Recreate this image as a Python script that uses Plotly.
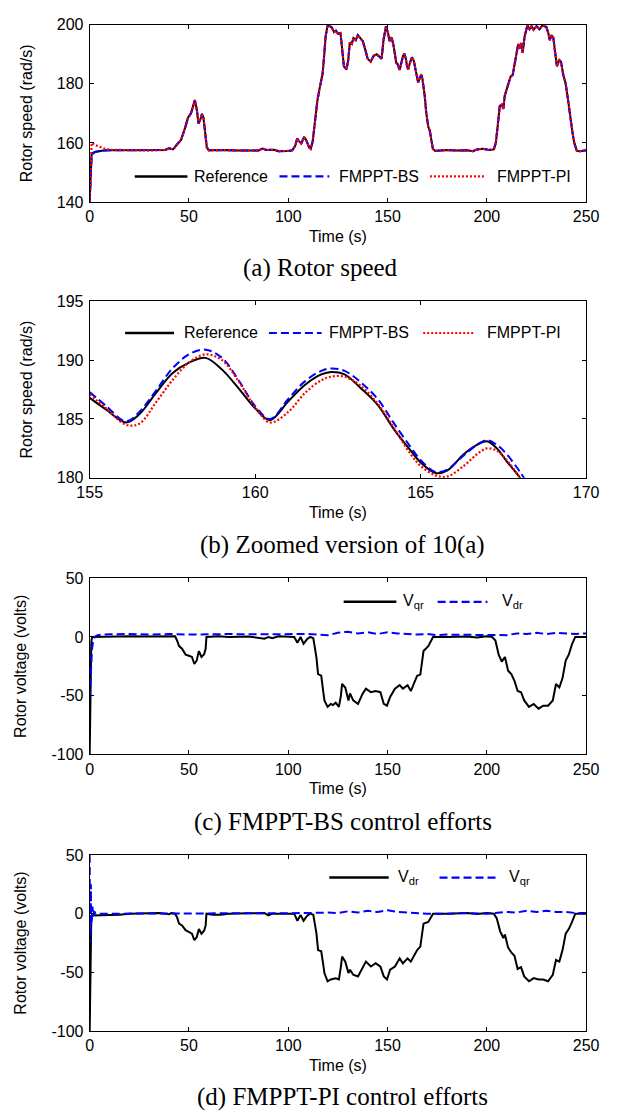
import plotly.graph_objects as go

# ---------------- data ----------------
# (a) Rotor speed over 0-250 s. The three curves coincide after t = 10 s.
t_a_head = [0, 0.5, 1, 3, 5, 7, 10]
ref_head = [140, 152, 156.5, 157.0, 157.3, 157.4, 157.5]
bs_head = [140, 150, 156, 157.0, 157.3, 157.4, 157.5]
pi_head = [140, 150, 160, 159.2, 158.6, 158.2, 157.7]

t_a_tail = [20, 30, 38,
            40, 42, 44, 46, 48, 49.5, 51, 52, 53, 54,
            54.8, 55.8, 56.5, 57.3, 58, 59, 60, 65, 68, 75,
            85, 87, 89, 93, 95, 100, 102, 103.5, 104.5, 105.5,
            106.5, 108, 109, 110.5, 111.3, 112.3, 113, 113.8, 114.6, 115.5,
            116.3, 117.3, 118, 118.8, 119.8, 121, 122, 123, 124, 125,
            126.3, 127.2, 128, 129.3, 130.2, 131, 132, 132.8, 134, 135,
            136, 137.5, 138.8, 140, 141.5, 143, 144.5, 146, 147, 148,
            149.2, 150.3, 151, 152, 153, 154.4, 155, 156.1, 157, 157.8,
            158.5, 159.25, 159.8, 160.4, 161.3, 162.3, 163.2, 164.1, 164.8, 165.4,
            166.2, 167, 167.55, 168, 168.7, 169.5, 170.5, 171.3, 172, 172.8,
            174, 180, 185, 190, 193, 195, 198, 201, 203.5, 204.5,
            205.5, 206.5, 207.5, 208.3, 209, 210, 211, 212, 213, 214,
            214.8, 215.8, 216.5, 217.3, 218, 219, 220.4, 221.5, 222.5, 223.5,
            225, 226.5, 228, 230, 231, 231.7, 232.5, 233.5, 234.5, 235.3,
            236.5, 237.3, 238.5, 239.7, 241, 242, 243, 244, 245.3, 247,
            250]
speed_tail = [157.5, 157.4, 157.6,
              158.2, 157.8, 159.5, 161, 165, 168.5, 170, 172, 174.5, 171,
              166.5, 168, 169.8, 168.5, 164, 158.5, 157.5, 157.7, 157.6, 157.4,
              157.4, 158.1, 157.6, 157.7, 157.2, 157.3, 157.5, 159, 161.5, 160.5,
              159.8, 162, 161, 158.5, 158, 160.5, 165, 170, 174, 177.5,
              180.5, 183.5, 189, 196, 199.7, 199.5, 199, 197.5, 198, 197,
              197.2, 191, 186, 184.8, 188, 194, 193.5, 195.5, 194.8, 196.5,
              195.8, 194.5, 191.5, 188.5, 187.5, 189.5, 190, 189, 188.5, 195,
              199.5, 197, 194.5, 195.8, 193, 187, 186.8, 184.7, 187.3, 189.5,
              190.2, 188.4, 186, 184.9, 187.2, 189, 187.8, 184.5, 181.7, 180.4,
              182, 183.1, 181.7, 180, 176, 170, 165.5, 164, 161, 158,
              157.3, 157.6, 157.4, 157.5, 157.2, 157.8, 158, 157.6, 157.8, 160,
              166, 172.5, 173, 171.5, 176, 178, 180.5, 182.5, 183, 187,
              191, 193.5, 192, 193.8, 190.5, 196, 199.8, 198.5, 199.5, 198.3,
              199.5, 198.5, 199.8, 199.2, 197, 194.8, 196.5, 195.5, 190, 186,
              188, 187.5, 183, 180, 174, 168.5, 164, 160, 157.3, 157.2,
              157.5]

# (b) Zoomed version, 155-170 s
t_b = [155, 155.5, 156.1, 156.5, 157, 157.5, 158, 158.5, 159, 159.5,
       160, 160.45, 161, 161.5, 162, 162.3, 162.7, 163.2, 163.7, 164.2,
       164.7, 165.0, 165.45, 165.8, 166.3, 166.7, 167.0, 167.3, 167.6, 168.0,
       168.3]
ref_b = [186.8, 185.8, 184.7, 185.4, 187.2, 188.9, 189.8, 190.2, 189.2, 187.6,
         185.9, 184.9, 186.5, 187.9, 188.8, 189.0, 188.8, 187.6, 186.2, 184.1,
         182.3, 181.3, 180.4, 180.6, 182.0, 182.8, 183.1, 182.5, 181.4, 180.0,
         178.6]
bs_b = [187.3, 186.1, 184.8, 185.6, 187.4, 189.3, 190.5, 190.9, 190.2, 188.3,
        186.1, 185.0, 186.7, 188.2, 189.1, 189.3, 189.1, 188.1, 186.7, 184.6,
        182.6, 181.5, 180.5, 180.7, 181.9, 182.8, 183.2, 182.8, 182.0, 180.5,
        179.2]
pi_b = [187.1, 185.9, 184.5, 184.6, 186.4, 188.3, 189.8, 190.5, 190.0, 188.2,
        186.0, 184.7, 185.6, 187.2, 188.3, 188.6, 188.6, 187.8, 186.3, 184.2,
        182.0, 181.0, 180.2, 180.1, 181.0, 182.0, 182.5, 182.3, 181.5, 180.0,
        178.8]

# (c) FMPPT-BS control efforts
t_vqr_c = [0, 0.3, 0.8, 1.2, 10, 20, 30, 38, 41, 43,
           44, 45, 46.5, 48.3, 50, 51.5, 52.7, 53.9, 55, 56.3,
           57.6, 58.4, 58.8, 65, 70, 80, 88, 90, 92, 95,
           103, 104.6, 106.2, 107.7, 109.4, 111, 112.6, 113.5, 114.2, 115,
           116.6, 117.5, 118.2, 119.8, 121.4, 122.5, 123.9, 125.5, 126.5, 127.1,
           128.7, 130.3, 131.1, 132.7, 135.1, 137.5, 139.1, 141.6, 144, 146.4,
           148.1, 149.7, 151.3, 153.7, 156.1, 157.7, 160.1, 161.7, 163.3, 164.9,
           166.5, 167.5, 168.1, 170.5, 172.9, 180, 190, 195, 200, 202.7,
           204.3, 205.9, 207.5, 209.1, 210.7, 212.3, 213.9, 215.5, 217.2, 218.8,
           221.2, 223.6, 226, 228.4, 230.8, 233.2, 234.8, 236.5, 238.1, 239.7,
           241.3, 242.9, 244.5, 250]
vqr_c = [-100, -60, -5, 0, 0.5, 0.5, 0.3, 0.5, 0, 0.5,
         -3, -7.8, -10, -15, -16, -17, -23, -20, -12, -17,
         -14.8, -10, 0, 0.5, 0, 0.3, -1.5, 0, -1, 0.5,
         0, -5, 0, -5.8, -2, 0, -1, -10, -17.6, -31.6,
         -33, -45, -54, -59.5, -57, -58, -56, -59.5, -50, -40,
         -43, -54, -48, -54, -57, -48, -44, -47, -46, -47,
         -57, -58.5, -51, -44, -41, -44, -41, -46, -40, -33,
         -32, -20, -12, -7.8, 0, 0, 0.3, -0.5, 0.5, 0,
         -3, -14.8, -21, -17, -28.7, -31.6, -37.4, -46, -47, -54,
         -59.5, -57, -61, -58.5, -58.5, -54, -40, -43, -35, -20,
         -14.8, -6, 0, 0]
t_vdr_c = [0, 0.4, 0.8, 1.2, 1.7, 2.5, 4, 6, 10, 15,
           20, 30, 40, 50, 60, 70, 80, 90, 100, 110,
           115, 120, 125, 130, 135, 140, 145, 150, 155, 160,
           165, 170, 175, 180, 185, 190, 195, 200, 205, 210,
           215, 220, 225, 230, 235, 240, 245, 250]
vdr_c = [-52, -35, -20, -10, -4, 0, 1.5, 2, 2.2, 2.5,
         2.5, 2, 2.5, 2, 2.5, 2.5, 2.2, 2.5, 2.2, 2.5,
         2, 1.5, 3.5, 4.5, 3, 4, 2.5, 4, 3, 2.5,
         2, 2.5, 1.5, 2, 2, 2, 1.5, 1.5, 2, 1.5,
         3, 2.5, 3.5, 2.5, 3.5, 3, 2.5, 3]

# (d) FMPPT-PI control efforts
t_vdr_d = [0, 0.3, 0.8, 1.2, 5, 10, 15, 20, 30, 35,
           40, 41, 43, 44, 45, 46.5, 48.3, 50, 51.5, 52.7,
           53.9, 55, 56.3, 57.6, 58.4, 58.8, 62, 66, 70, 80,
           88, 90, 92, 95, 103, 104.6, 106.2, 107.7, 109.4, 111,
           112.6, 113.5, 114.2, 115, 116.6, 117.5, 118.2, 119.8, 121.4, 123.9,
           125.5, 126.5, 127.1, 128.7, 130.3, 131.1, 132.7, 135.1, 137.5, 139.1,
           141.6, 144, 146.4, 148.1, 149.7, 151.3, 153.7, 156.1, 157.7, 160.1,
           161.7, 163.3, 164.9, 166.5, 167.5, 168.1, 170.5, 172.9, 180, 190,
           195, 200, 203.5, 205, 206.7, 208.3, 209.1, 210.7, 212.3, 213.9,
           215.5, 217.2, 218.8, 221.2, 223.6, 226, 228.4, 230.8, 233.2, 234.8,
           236.5, 238.1, 239.7, 241.3, 242.9, 244.5, 250]
vdr_d = [-100, -60, -5, -1.5, -1.5, -1.5, -1, 0, 0, 0.5,
         -0.5, 0.5, 0, -3, -8.5, -10, -14, -15.5, -17, -22.6,
         -20, -13, -17, -14.5, -10, 0, -1, -1, 0, 0.3,
         0.5, -1.5, 0, 0, 0, -6, -1, -6, -2, 0,
         -1, -10, -17, -31, -32, -42, -50.5, -57.5, -56, -55,
         -56, -45, -36.5, -40.8, -50.5, -47.7, -52, -53.4, -45, -40.8,
         -45, -42.2, -45, -53.4, -56, -47.7, -45, -38, -42.2, -38,
         -40.8, -36.5, -31, -28, -18, -8.5, -7, 0, 0, 0.5,
         -0.3, 0.5, 0, -4, -15, -20.7, -17.8, -28.9, -33, -35.8,
         -47, -45.5, -53.4, -57.5, -54.8, -56, -56, -57.5, -52, -39.4,
         -40.8, -31, -17, -12.9, -7, 0, 0]
t_vqr_d = [0, 0.15, 0.3, 0.45, 0.6, 0.75, 0.9, 1.1, 1.4, 1.8,
           2.3, 3, 10, 20, 40, 60, 80, 100, 110, 120,
           125, 130, 135, 140, 145, 150, 155, 160, 165, 170,
           180, 190, 200, 205, 210, 215, 220, 225, 230, 235,
           240, 245, 250]
vqr_d = [50, -25, 40, -20, 25, -10, 12, -5, 6, -2,
         2, 0, 0, 0, 0.3, 0, 0.3, 0, 0.5, 1,
         0.5, 2, 1, 2.5, 1.5, 3, 1.5, 1, 0.5, 0,
         0, 0.5, 0, 0.5, 1.5, 1, 2.5, 1.5, 2.5, 1.5,
         1.5, 0.5, 0.5]

x_ticks_full = [0, 50, 100, 150, 200, 250]
x_ticks_zoom = [155, 160, 165, 170]
y_ticks_speed = [140, 160, 180, 200]
y_ticks_zoom = [180, 185, 190, 195]
y_ticks_volt = [-100, -50, 0, 50]

captions = ["(a) Rotor speed", "(b) Zoomed version of 10(a)",
            "(c) FMPPT-BS control efforts", "(d) FMPPT-PI control efforts"]

# ---------------- layout helpers ----------------
W, H = 626, 1118
PL, PR = 80, 598
TOPS = [17, 298, 579, 860]
BOTS = [197, 477, 758, 1039]
SANS = "Liberation Sans, Arial, Helvetica, sans-serif"
SERIF = "Liberation Serif, Times New Roman, serif"

BLACK = "#000000"
BLUE = "#0000ff"
RED = "#ff0000"
DASH = "8px,4px"
DOT = "2px,2px"


def fx(px):
    return px / W


def fy(py):
    return 1 - py / H


fig = go.Figure()


def add(x, y, i, color, dash, name, shape="linear", width=2.0):
    sfx = "" if i == 1 else str(i)
    fig.add_trace(go.Scatter(
        x=x, y=y, mode="lines", name=name, showlegend=False,
        line=dict(color=color, width=width, dash=dash, shape=shape),
        xaxis="x" + sfx, yaxis="y" + sfx))


# (a)
add(t_a_head + t_a_tail, ref_head + speed_tail, 1, BLACK, "solid", "Reference")
add(t_a_head + t_a_tail, bs_head + speed_tail, 1, BLUE, DASH, "FMPPT-BS")
add(t_a_head + t_a_tail, pi_head + speed_tail, 1, RED, DOT, "FMPPT-PI", width=2.2)
# (b)
add(t_b, ref_b, 2, BLACK, "solid", "Reference", shape="spline")
add(t_b, bs_b, 2, BLUE, DASH, "FMPPT-BS", shape="spline")
add(t_b, pi_b, 2, RED, DOT, "FMPPT-PI", shape="spline", width=2.2)
# (c)
add(t_vqr_c, vqr_c, 3, BLACK, "solid", "Vqr")
add(t_vdr_c, vdr_c, 3, BLUE, DASH, "Vdr")
# (d)
add(t_vdr_d, vdr_d, 4, BLACK, "solid", "Vdr")
add(t_vqr_d, vqr_d, 4, BLUE, DASH, "Vqr")

axis_common = dict(
    showline=True, linecolor="black", linewidth=1, mirror="ticks",
    ticks="inside", ticklen=4, tickwidth=1, tickcolor="black",
    showgrid=False, zeroline=False, fixedrange=True,
    tickfont=dict(family=SANS, size=16, color="black"),
)

x_ranges = [[0, 250], [155, 170], [0, 250], [0, 250]]
x_tickvals = [x_ticks_full, x_ticks_zoom, x_ticks_full, x_ticks_full]
y_ranges = [[140, 200], [180, 195], [-100, 50], [-100, 50]]
y_tickvals = [y_ticks_speed, y_ticks_zoom, y_ticks_volt, y_ticks_volt]
y_titles = ["Rotor speed (rad/s)", "Rotor speed (rad/s)",
            "Rotor voltage (volts)", "Rotor voltage (volts)"]

layout_axes = {}
for i in range(4):
    sfx = "" if i == 0 else str(i + 1)
    layout_axes["xaxis" + sfx] = dict(
        axis_common, domain=[fx(PL), fx(PR)], anchor="y" + sfx,
        range=x_ranges[i], tickvals=x_tickvals[i],
        ticktext=[str(v) for v in x_tickvals[i]],
        title=dict(text="Time (s)", font=dict(family=SANS, size=16, color="black"),
                   standoff=6),
    )
    layout_axes["yaxis" + sfx] = dict(
        axis_common, domain=[fy(BOTS[i]), fy(TOPS[i])], anchor="x" + sfx,
        range=y_ranges[i], tickvals=y_tickvals[i],
        ticktext=[str(v) for v in y_tickvals[i]],
        ticklabelstandoff=2,
        title=dict(text=y_titles[i], font=dict(family=SANS, size=16, color="black"),
                   standoff=20),
    )

# custom legends (longer line samples as in the original)
legend_items = [
    # (panel y px, [(x0, x1, color, dash, width, label, label_x), ...])
    (171, [(127, 182, BLACK, "solid", 2.5, "Reference", 187),
           (278, 330, BLUE, DASH, 2.2, "FMPPT-BS", 338),
           (435, 492, RED, DOT, 2.2, "FMPPT-PI", 503)]),
    (330, [(117, 168, BLACK, "solid", 2.5, "Reference", 176),
           (267, 322, BLUE, DASH, 2.2, "FMPPT-BS", 328),
           (428, 482, RED, DOT, 2.2, "FMPPT-PI", 492)]),
    (603, [(345, 400, BLACK, "solid", 2.5, "V<sub>qr</sub>", 405),
           (443, 495, BLUE, DASH, 2.2, "V<sub>dr</sub>", 508)]),
    (883, [(330, 392, BLACK, "solid", 2.5, "V<sub>dr</sub>", 400),
           (445, 507, BLUE, DASH, 2.2, "V<sub>qr</sub>", 515)]),
]
shapes = []
annotations = []
for ypx, items in legend_items:
    for x0, x1, col, dsh, lw, lab, lx in items:
        shapes.append(dict(type="line", xref="paper", yref="paper",
                           x0=fx(x0), x1=fx(x1), y0=fy(ypx), y1=fy(ypx),
                           line=dict(color=col, width=lw, dash=dsh)))
        annotations.append(dict(text=lab, xref="paper", yref="paper",
                                x=fx(lx), y=fy(ypx), xanchor="left", yanchor="middle",
                                showarrow=False,
                                font=dict(family=SANS, size=16, color="black")))

cap_pos = [(321, 264), (344, 545), (344, 827), (344, 1106)]
for text, (cx, cy) in zip(captions, cap_pos):
    annotations.append(dict(text=text, xref="paper", yref="paper",
                            x=fx(cx), y=fy(cy), xanchor="center", yanchor="middle",
                            showarrow=False,
                            font=dict(family=SERIF, size=25, color="black")))

fig.update_layout(
    width=W, height=H, autosize=False,
    margin=dict(l=0, r=0, t=0, b=0, pad=0),
    paper_bgcolor="white", plot_bgcolor="white",
    showlegend=False,
    shapes=shapes, annotations=annotations,
    **layout_axes,
)

fig.write_html("out.html", config={"displayModeBar": False})
